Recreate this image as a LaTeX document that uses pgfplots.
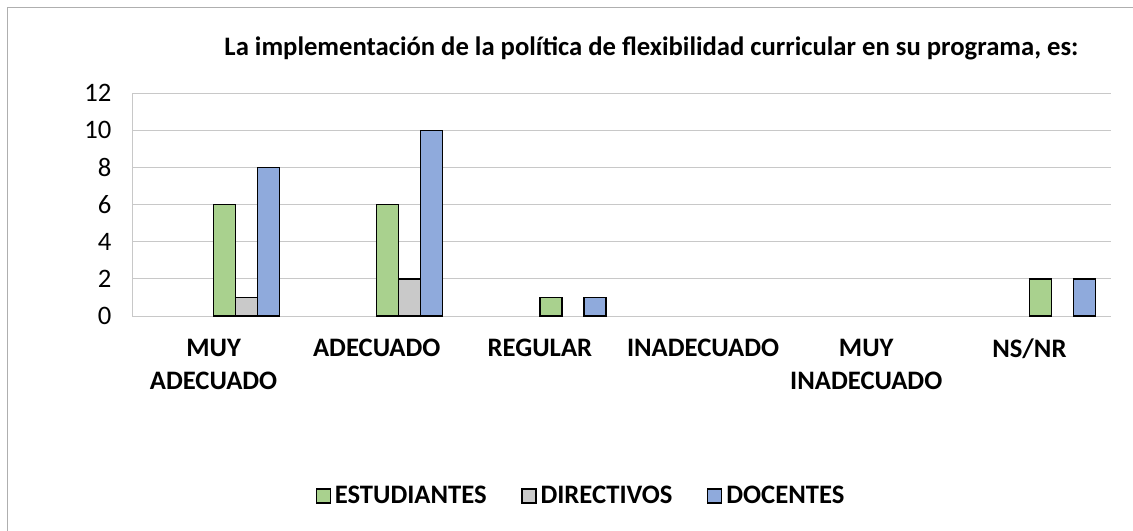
\documentclass[border=0pt]{standalone}
\usepackage{fontspec}
\setmainfont{Carlito}
\usepackage{pgfplots}
\pgfplotsset{compat=1.18}
\definecolor{cgreen}{RGB}{169,209,142}
\definecolor{cgrey}{RGB}{201,201,201}
\definecolor{cblue}{RGB}{143,170,220}
\definecolor{gridc}{RGB}{200,200,200}
\definecolor{framec}{RGB}{175,175,175}
\newcommand\fs{\fontsize{20}{24.75}\selectfont}

\begin{document}
\begin{tikzpicture}
\useasboundingbox (0,0) rectangle (849.75pt,-398.25pt);
\fill[white] (0,0) rectangle (849.75pt,-398.25pt);
\draw[framec, line width=1.2pt] (5.6pt,-400pt) -- (5.6pt,-5.6pt) -- (852pt,-5.6pt);
\node[anchor=base, font=\fs\bfseries, inner sep=0pt] at (488.6pt,-42pt) {La implementación de la política de flexibilidad curricular en su programa, es:};
\begin{axis}[
 at={(99pt,-237pt)}, anchor=south west,
 scale only axis, width=734.25pt, height=167.25pt,
 xmin=-0.5, xmax=5.5, ymin=0, ymax=12,
 ytick={0,2,...,12},
 xtick={0,...,5},
 xticklabels={MUY\\ADECUADO, ADECUADO, REGULAR, INADECUADO, MUY\\INADECUADO, NS/NR},
 xticklabel style={align=center, font=\fs\bfseries, anchor=north, yshift=-13.5pt},
 yticklabel style={font=\fs, xshift=-12pt},
 /pgf/number format/assume math mode=true,
 major tick length=0pt,
 axis lines*=left,
 axis line style={gridc, line width=0.75pt},
 ymajorgrids, grid style={gridc, line width=0.75pt},
 bar width=0.135,
 legend columns=3,
 legend style={at={(0.4597,-0.807)}, anchor=center, draw=none, fill=none, font=\fs\bfseries,
   /tikz/every even column/.append style={column sep=23pt},
   nodes={inner xsep=3pt}},
 legend image code/.code={\draw[#1, line width=0.9pt] (0pt,-5.25pt) rectangle (10.5pt,5.25pt);},
]
\addplot[ybar, bar shift=0.0675, fill=cgreen, draw=black, line width=1pt] coordinates {(0,6) (1,6) (2,1) (5,2)};
\addlegendentry{ESTUDIANTES}
\addplot[ybar, bar shift=0.2025, fill=cgrey, draw=black, line width=1pt] coordinates {(0,1) (1,2)};
\addlegendentry{DIRECTIVOS}
\addplot[ybar, bar shift=0.3375, fill=cblue, draw=black, line width=1pt] coordinates {(0,8) (1,10) (2,1) (5,2)};
\addlegendentry{DOCENTES}
\end{axis}
\end{tikzpicture}
\end{document}
